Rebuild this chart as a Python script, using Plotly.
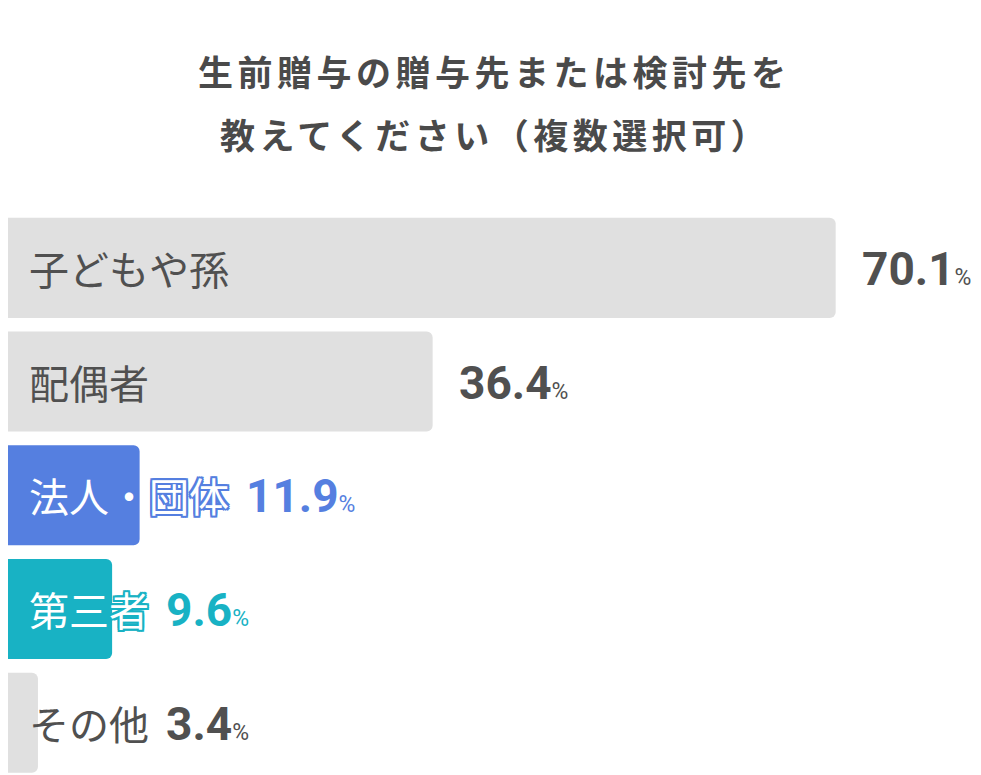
import plotly.graph_objects as go

# データ
categories = ["子どもや孫", "配偶者", "法人・団体", "第三者", "その他"]
values = [70.1, 36.4, 11.9, 9.6, 3.4]
bar_colors = ["#e0e0e0", "#e0e0e0", "#557fe0", "#18b2c4", "#e0e0e0"]
value_colors = ["#505050", "#505050", "#557fe0", "#18b2c4", "#505050"]
title_lines = ["生前贈与の贈与先または検討先を", "教えてください（複数選択可）"]

# ページの body には 8px の余白があるので、その分だけ小さく作る
W, H = 973, 767
TOP = 203
PX_PER_UNIT = 11.96
R0 = 0.895  # x 軸の左端
LABEL_SIZE = 40
LABEL_LEFT = 19

fig = go.Figure()

fig.add_trace(go.Bar(
    x=values,
    y=categories,
    orientation="h",
    marker=dict(color=bar_colors, cornerradius=6, line=dict(width=0)),
    hoverinfo="skip",
))


def outline(color, r=2):
    pts = [(-r, -r), (0, -r), (r, -r), (r, 0), (r, r), (0, r), (-r, r), (-r, 0)]
    return ", ".join(f"{dx}px {dy}px 0 {color}" for dx, dy in pts)


for i, (cat, val) in enumerate(zip(categories, values)):
    colored = bar_colors[i] != "#e0e0e0"
    # カテゴリラベル
    fig.add_annotation(
        x=0, y=cat, xref="paper", yref="y",
        text=cat, showarrow=False,
        xanchor="left", yanchor="middle", xshift=LABEL_LEFT,
        font=dict(family="Noto Sans CJK JP", size=LABEL_SIZE,
                  color="white" if colored else "#505050",
                  shadow=outline(bar_colors[i]) if colored else "none"),
    )
    # 数値ラベル: バーの端かラベルの端の右
    label_end = R0 + (LABEL_LEFT + len(cat) * LABEL_SIZE) / PX_PER_UNIT
    if val + 0.4 > label_end:
        vx, shift = val, 24
    else:
        vx, shift = label_end, 17
    fig.add_annotation(
        x=vx, y=cat, xref="x", yref="y",
        text=f"{val:.1f}<span style='font-size:23px;font-weight:400'>%</span>",
        showarrow=False, xanchor="left", yanchor="middle", xshift=shift, yshift=-1,
        font=dict(family="Roboto", size=46, weight=700, color=value_colors[i]),
    )

# タイトル(2行)
for line, ypx in zip(title_lines, [62, 126]):
    fig.add_annotation(
        x=0.5, y=(H - ypx) / (H - TOP), xref="paper", yref="paper",
        yanchor="middle", xanchor="center", showarrow=False,
        text=f"<span style='letter-spacing:4.5px'>{line}</span>",
        font=dict(family="Noto Sans CJK JP", size=35, weight=700, color="#4a4a4a"),
    )

fig.update_layout(
    width=W, height=H,
    margin=dict(l=0, r=0, t=TOP, b=0),
    paper_bgcolor="white", plot_bgcolor="white",
    showlegend=False,
    bargap=0.12,
    xaxis=dict(range=[R0, R0 + W / PX_PER_UNIT], visible=False, fixedrange=True),
    yaxis=dict(type="category", categoryorder="array", categoryarray=categories,
               range=[4.46, -0.5], visible=False, fixedrange=True),
)

fig.write_html("out.html")
